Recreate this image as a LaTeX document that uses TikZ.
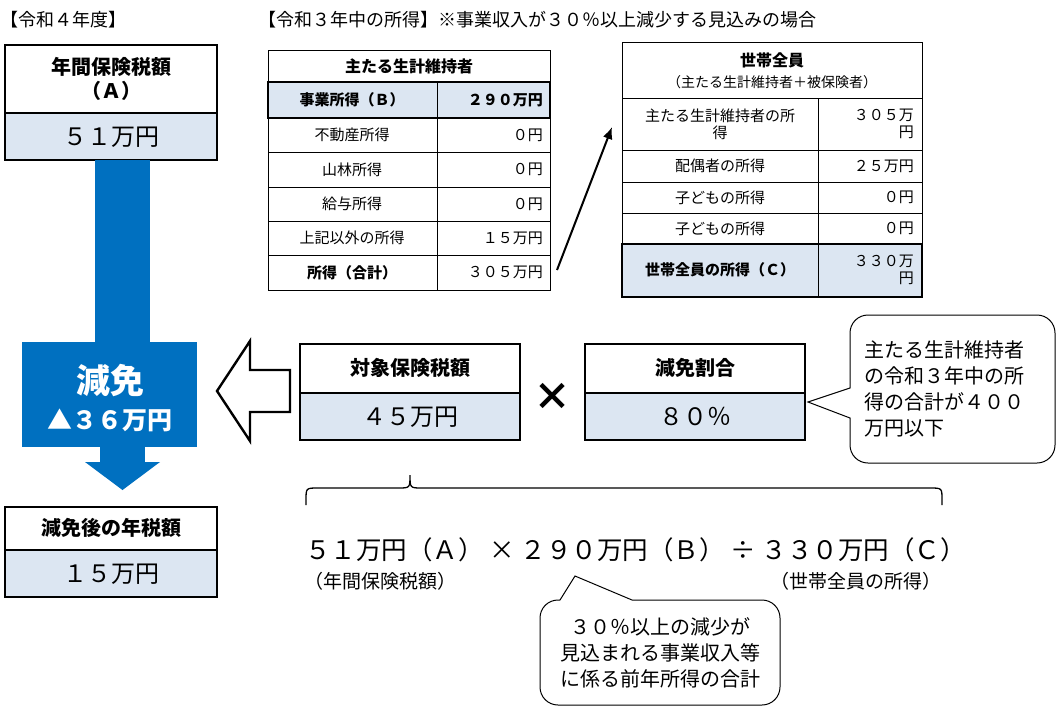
\documentclass[tikz,border=0pt]{standalone}
\usepackage{fontspec}
\setmainfont{Noto Sans CJK JP}
\usetikzlibrary{arrows.meta}
\definecolor{lb}{HTML}{DCE6F2}
\definecolor{bl}{HTML}{0070C0}
\tikzset{
 thk/.style={draw=black,line width=2.6pt},
 thn/.style={draw=black,line width=0.8pt},
 tx/.style={font=\fontsize{15}{17}\selectfont,align=center,inner sep=0},
 ttl/.style={font=\bfseries\fontsize{20}{24}\selectfont,align=center,inner sep=0},
 val/.style={font=\fontsize{24}{26}\selectfont,inner sep=0},
}
\begin{document}
\begin{tikzpicture}[x=1pt,y=-1pt]
\useasboundingbox[fill=white] (0,0) rectangle (1059,712);
% left top
\node[anchor=west,font=\fontsize{18}{20}\selectfont,inner sep=0] (h1) at (0,20) {【令和４年度】};
\draw[thk,fill=white] (5,45) rectangle (217,113);
\draw[thk,fill=lb] (5,113) rectangle (217,160);
\node[ttl] (a1) at (111,79) {年間保険税額\\（Ａ）};
\node[val] (a2) at (111,137) {５１万円};
% blue arrow
\fill[bl] (95,160) rectangle (150,345);
\fill[bl] (22,342) rectangle (197,447);
\fill[bl] (100,447) rectangle (145,462);
\fill[bl] (85,462) -- (122.5,490) -- (160,462) -- cycle;
\node[text=white,font=\bfseries\fontsize{34}{38}\selectfont,inner sep=0] (g1) at (110,380) {減免};
\node[text=white,font=\bfseries\fontsize{25}{28}\selectfont,inner sep=0] (g2) at (110,420) {▲３６万円};
% after
\draw[thk,fill=white] (5,507) rectangle (217,550);
\draw[thk,fill=lb] (5,550) rectangle (217,597);
\node[ttl] (b1) at (111,528) {減免後の年税額};
\node[val] (b2) at (111,574) {１５万円};
% title
\node[anchor=west,font=\fontsize{18}{20}\selectfont,inner sep=0] (h2) at (258,20) {【令和３年中の所得】※事業収入が３０％以上減少する見込みの場合};
% table 1
\draw[thn] (268,50) rectangle (550,82);
\node[tx,font=\bfseries\fontsize{16}{18}\selectfont] (t1h) at (409,66) {主たる生計維持者};
\foreach \ya/\yb/\l/\r/\bf [count=\i] in {
 118/152/不動産所得/０円/,152/187/山林所得/０円/,187/221/給与所得/０円/,
 221/255/上記以外の所得/１５万円/,255/290/所得（合計）/３０５万円/\bfseries}{
 \draw[thn] (268,\ya) rectangle (437,\yb);
 \draw[thn] (437,\ya) rectangle (550,\yb);
 \node[tx] (t1l\i) at (352,{(\ya+\yb)/2}) {\bf\l};
 \node[tx,anchor=east] (t1r\i) at (543,{(\ya+\yb)/2}) {\r};
}
\draw[thn,fill=lb] (268,82) rectangle (437,118);
\draw[thn,fill=lb] (437,82) rectangle (550,118);
\draw[thk] (268,82) rectangle (550,118);
\node[tx,font=\bfseries\fontsize{15}{17}\selectfont] (t1b) at (352,100) {事業所得（Ｂ）};
\node[tx,font=\bfseries\fontsize{15}{17}\selectfont,anchor=east] (t1v) at (543,100) {２９０万円};
% table 2
\draw[thn] (622,42) rectangle (922,98);
\node[tx,font=\bfseries\fontsize{16}{18}\selectfont] (t2h) at (772,60) {世帯全員};
\node[tx,font=\fontsize{14}{16}\selectfont] (t2s) at (772,82) {（主たる生計維持者＋被保険者）};
\foreach \ya/\yb/\l/\r [count=\i] in {
 98/150/{主たる生計維持者の所\\得}/{３０５万\\円},150/182/配偶者の所得/２５万円,
 182/213/子どもの所得/０円,213/244/子どもの所得/０円}{
 \draw[thn] (622,\ya) rectangle (818,\yb);
 \draw[thn] (818,\ya) rectangle (922,\yb);
 \node[tx] (t2l\i) at (720,{(\ya+\yb)/2}) {\l};
 \node[tx,align=right,anchor=east] (t2r\i) at (914,{(\ya+\yb)/2}) {\r};
}
\draw[thn,fill=lb] (622,244) rectangle (818,297);
\draw[thn,fill=lb] (818,244) rectangle (922,297);
\draw[thk] (622,244) rectangle (922,297);
\node[tx,font=\bfseries\fontsize{15}{17}\selectfont] (t2c) at (720,270) {世帯全員の所得（Ｃ）};
\node[tx,align=right,anchor=east] (t2v) at (914,270) {３３０万\\円};
\coordinate (ar1) at (557,270);
\coordinate (ar2) at (612,127);
\draw[line width=2pt,-{Latex[length=12pt,width=10pt]}] (ar1) -- (ar2);
% hollow arrow
\draw[line width=2.4pt,fill=white,line join=miter] (290,370) -- (250,370) -- (250,341) -- (217,391) -- (250,441) -- (250,412) -- (290,412) -- cycle;
% middle boxes
\draw[thk,fill=white] (300,344) rectangle (520,393);
\draw[thk,fill=lb] (300,393) rectangle (520,440);
\node[ttl] (c1) at (410,368) {対象保険税額};
\node[val] (c2) at (410,417) {４５万円};
\node[font=\bfseries\fontsize{38}{40}\selectfont,inner sep=0] (x) at (552,397) {×};
\draw[thk,fill=white] (585,344) rectangle (805,393);
\draw[thk,fill=lb] (585,393) rectangle (805,440);
\node[ttl] (d1) at (695,368) {減免割合};
\node[val] (d2) at (695,417) {８０％};
% callout right
\draw[line width=1pt,fill=white] (870,315) [rounded corners=18] -- (1055,315) -- (1055,463) -- (850,463) [sharp corners]-- (850,418) -- (808,402) -- (850,388) [rounded corners=18] -- (850,315) -- (870,315);
\node[font=\fontsize{20}{26}\selectfont,align=left,anchor=west,inner sep=0] (e1) at (864,389) {主たる生計維持者\\の令和３年中の所\\得の合計が４００\\万円以下};
% brace
\draw[line width=1.3pt] (306,505) -- (306,500) .. controls (306,488) .. (318,488) -- (398,488) .. controls (410,488) .. (410,475) .. controls (410,488) .. (422,488) -- (930,488) .. controls (942,488) .. (942,500) -- (942,505);
% formula
\node[font=\fontsize{25.5}{28}\selectfont,inner sep=0,anchor=west] (f1) at (305,550) {５１万円（Ａ）\ ×\ ２９０万円（Ｂ）\ ÷\ ３３０万円（Ｃ）};
\node[font=\fontsize{19}{22}\selectfont,inner sep=0] (f2) at (380,581) {（年間保険税額）};
\node[font=\fontsize{19}{22}\selectfont,inner sep=0] (f3) at (856,581) {（世帯全員の所得）};
% callout bottom
\draw[line width=1pt,fill=white] (560,600) [sharp corners] -- (575,576) -- (632,600) [rounded corners=18] -- (780,600) -- (780,705) -- (540,705) -- (540,600) -- (560,600);
\node[font=\fontsize{20}{26}\selectfont,align=center,inner sep=0] (e2) at (660,653) {３０％以上の減少が\\見込まれる事業収入等\\に係る前年所得の合計};
\end{tikzpicture}
\end{document}
